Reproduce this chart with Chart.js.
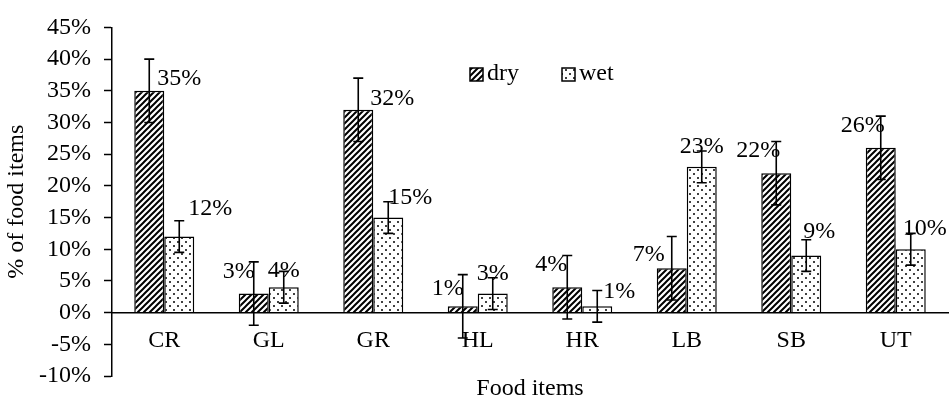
<!DOCTYPE html>
<html>
<head>
<meta charset="utf-8">
<script src="https://cdn.jsdelivr.net/npm/chart.js@4.4.1/dist/chart.umd.min.js"></script>
<style>
html, body { margin: 0; padding: 0; background: #fff; }
</style>
</head>
<body>
<canvas id="barChart" width="949" height="404"></canvas>
<script>
// data (percent of food items)
const categories = ['CR', 'GL', 'GR', 'HL', 'HR', 'LB', 'SB', 'UT'];
const dryValues = [35, 3, 32, 1, 4, 7, 22, 26];
const wetValues = [12, 4, 15, 3, 1, 23, 9, 10];
const dryErrors = [5, 5, 5, 5, 5, 5, 5, 5];
const wetErrors = [2.5, 2.5, 2.5, 2.5, 2.5, 2.5, 2.5, 2.5];
const yTickValues = [-10, -5, 0, 5, 10, 15, 20, 25, 30, 35, 40, 45];

const serif = "'Liberation Serif', 'Times New Roman', serif";

// where each value label sits, relative to the top of its bar (px)
const labelOffsets = [
    [[30, -12], [-15, -22], [34, -11], [-15, -18], [-16, -23], [-23, -14], [-18, -22], [-18, -22]],
    [[31, -28], [0, -17], [22, -20], [0, -20], [22, -15], [0, -20], [13, -24], [14, -21]]
];

const ctx = document.getElementById('barChart').getContext('2d');

function hatchPattern() {
    const c = document.createElement('canvas');
    c.width = 6; c.height = 6;
    const g = c.getContext('2d');
    g.fillStyle = '#fff';
    g.fillRect(0, 0, 6, 6);
    g.strokeStyle = '#000';
    g.lineWidth = 2;
    g.beginPath();
    g.moveTo(-1, 7); g.lineTo(7, -1);
    g.moveTo(-1, 1); g.lineTo(1, -1);
    g.moveTo(5, 7); g.lineTo(7, 5);
    g.stroke();
    return ctx.createPattern(c, 'repeat');
}

function dotPattern() {
    const c = document.createElement('canvas');
    c.width = 8; c.height = 8;
    const g = c.getContext('2d');
    g.fillStyle = '#fff';
    g.fillRect(0, 0, 8, 8);
    g.fillStyle = '#000';
    g.beginPath(); g.arc(2, 2, 1, 0, Math.PI * 2); g.fill();
    g.beginPath(); g.arc(6, 6, 1, 0, Math.PI * 2); g.fill();
    return ctx.createPattern(c, 'repeat');
}

const errorBars = {
    id: 'errorBars',
    afterDatasetsDraw(chart) {
        const c = chart.ctx;
        const y = chart.scales.y;
        c.save();
        c.strokeStyle = '#000';
        c.lineWidth = 1.6;
        chart.data.datasets.forEach((ds, i) => {
            chart.getDatasetMeta(i).data.forEach((bar, j) => {
                const top = y.getPixelForValue(ds.data[j] + ds.errors[j]);
                const bot = y.getPixelForValue(ds.data[j] - ds.errors[j]);
                c.beginPath();
                c.moveTo(bar.x, top); c.lineTo(bar.x, bot);
                c.moveTo(bar.x - 5, top); c.lineTo(bar.x + 5, top);
                c.moveTo(bar.x - 5, bot); c.lineTo(bar.x + 5, bot);
                c.stroke();
            });
        });
        c.restore();
    }
};

const valueLabels = {
    id: 'valueLabels',
    afterDatasetsDraw(chart) {
        const c = chart.ctx;
        c.save();
        c.font = '24px ' + serif;
        c.fillStyle = '#000';
        c.textAlign = 'center';
        c.textBaseline = 'middle';
        chart.data.datasets.forEach((ds, i) => {
            chart.getDatasetMeta(i).data.forEach((bar, j) => {
                const off = labelOffsets[i][j];
                c.fillText(ds.data[j] + '%', bar.x + off[0], bar.y + off[1]);
            });
        });
        c.restore();
    }
};

// legend box and x title, drawn by hand
const extras = {
    id: 'extras',
    afterDraw(chart) {
        const c = chart.ctx;
        const area = chart.chartArea;
        c.save();
        c.font = '24px ' + serif;
        c.fillStyle = '#000';
        c.textBaseline = 'middle';
        c.textAlign = 'left';
        const legendX = [470, 562];
        chart.data.datasets.forEach((ds, i) => {
            const x = legendX[i];
            c.fillStyle = ds.backgroundColor;
            c.fillRect(x, 68, 13, 13);
            c.strokeStyle = '#000';
            c.lineWidth = 1.5;
            c.strokeRect(x, 68, 13, 13);
            c.fillStyle = '#000';
            c.fillText(ds.label, x + 17, 74);
        });
        c.textAlign = 'center';
        c.fillText('Food items', (area.left + area.right) / 2, 389);
        c.restore();
    }
};

const barChart = new Chart(ctx, {
    type: 'bar',
    data: {
        labels: categories,
        datasets: [{
            label: 'dry',
            data: dryValues,
            errors: dryErrors,
            backgroundColor: hatchPattern(),
            borderColor: '#000',
            borderWidth: 1.5
        }, {
            label: 'wet',
            data: wetValues,
            errors: wetErrors,
            backgroundColor: dotPattern(),
            borderColor: '#000',
            borderWidth: 1.5
        }]
    },
    options: {
        responsive: false,
        animation: false,
        categoryPercentage: 0.574,
        barPercentage: 1,
        layout: {
            padding: { top: 23, bottom: 28, left: 0, right: 1 }
        },
        plugins: {
            legend: { display: false },
            tooltip: { enabled: false }
        },
        scales: {
            x: {
                position: { y: 0 },
                grid: { display: false, drawTicks: false },
                border: { display: true, color: '#000', width: 1.5 },
                ticks: {
                    color: '#000',
                    padding: 14,
                    font: { family: serif, size: 24 }
                }
            },
            y: {
                min: -10,
                max: 45,
                afterBuildTicks: scale => {
                    scale.ticks = yTickValues.map(v => ({ value: v }));
                },
                afterFit: scale => {
                    scale.width = 112;
                },
                grid: {
                    drawOnChartArea: false,
                    tickLength: 8,
                    tickColor: '#000',
                    tickWidth: 1.5
                },
                border: { display: true, color: '#000', width: 1.5 },
                ticks: {
                    color: '#000',
                    padding: 13,
                    font: { family: serif, size: 24 },
                    callback: v => v + '%'
                },
                title: {
                    display: true,
                    text: '% of food items',
                    color: '#000',
                    padding: { top: 2, bottom: 0 },
                    font: { family: serif, size: 24 }
                }
            }
        }
    },
    plugins: [errorBars, valueLabels, extras]
});
</script>
</body>
</html>
